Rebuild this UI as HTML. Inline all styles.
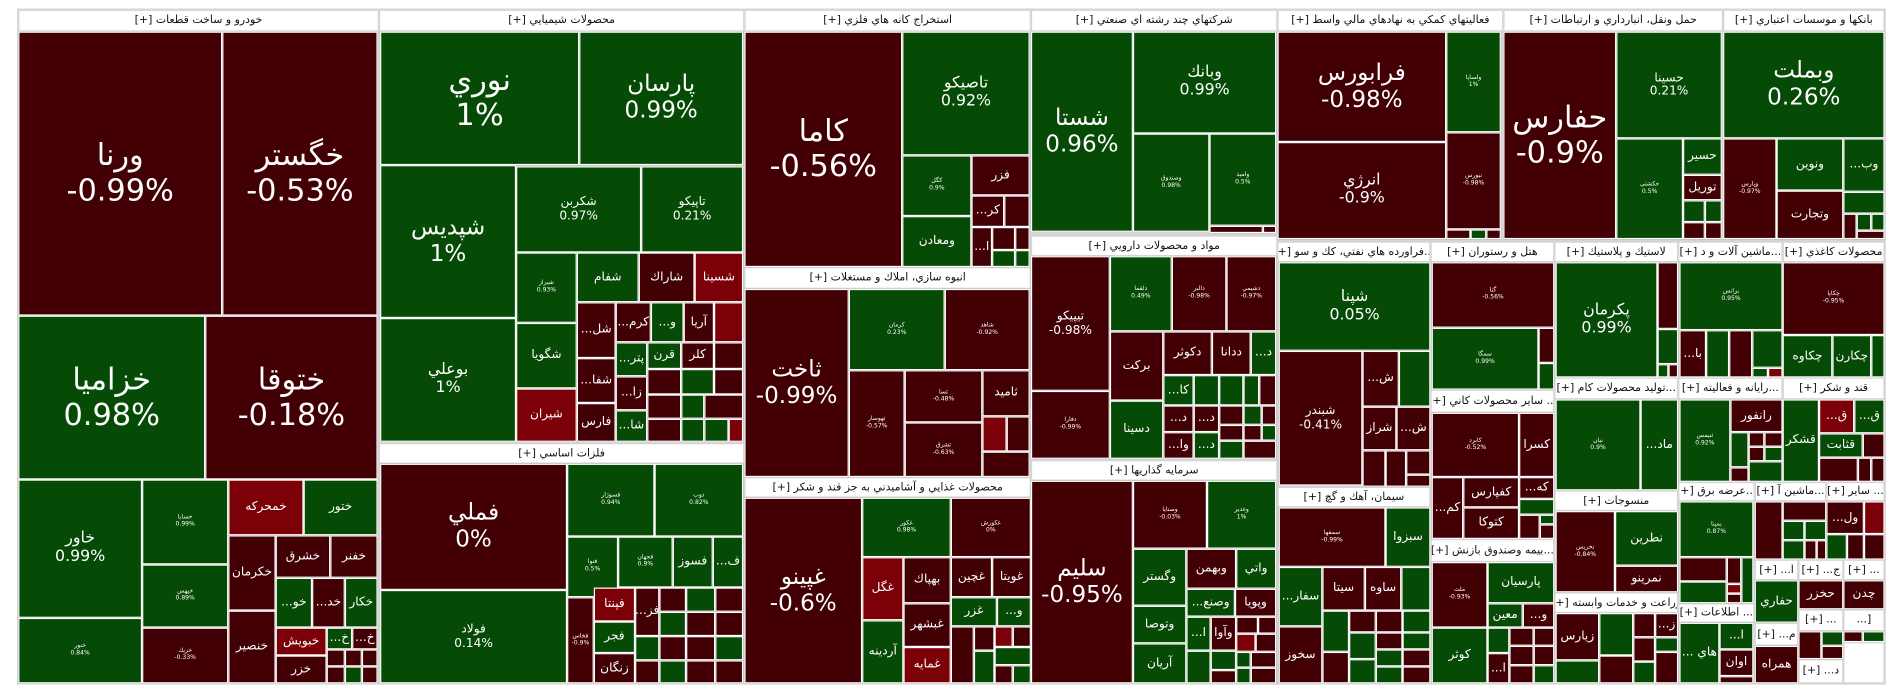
<!DOCTYPE html>
<html><head><meta charset="utf-8"><style>
html,body{margin:0;padding:0;background:#fff;width:1904px;height:698px;overflow:hidden}
#w{position:absolute;left:0;top:0;width:1568px;height:575px;transform:scale(1.2143,1.2139);transform-origin:0 0}
#bg{position:absolute;left:14px;top:7px;width:1539px;height:557px;background:#d4d4d4}
.c,.h{position:absolute;box-sizing:border-box;display:flex;align-items:center;justify-content:center;text-align:center;overflow:hidden;font-family:"DejaVu Sans","Liberation Sans",sans-serif;white-space:nowrap}
.h{direction:rtl}
.c{direction:ltr;border:1px solid #fff;color:#fff;line-height:1.15;font-size:9px}
.h{background:#fff;border:1px solid #d4d4d4;color:#111;font-size:9px}
.r{background:#420004}.g{background:#054a05}.b{background:#7b0007}
.x{font-size:25px}.l{font-size:19px}.m{font-size:13px}.s{font-size:10px}.t{font-size:5px}
</style></head><body><div id="w"><div id="bg"></div>
<!-- headers -->
<div class="h" style="left:15px;top:8px;width:297px;height:18px">خودرو و ساخت قطعات [+]</div>
<div class="h" style="left:312px;top:8px;width:301px;height:18px">محصولات شيميايي [+]</div>
<div class="h" style="left:312px;top:365px;width:301px;height:17px">فلزات اساسي [+]</div>
<div class="h" style="left:613px;top:8px;width:236px;height:18px">استخراج کانه هاي فلزي [+]</div>
<div class="h" style="left:613px;top:220px;width:236px;height:18px">انبوه سازي، املاك و مستغلات [+]</div>
<div class="h" style="left:613px;top:393px;width:236px;height:17px">محصولات غذايي و آشاميدني به جز قند و شکر [+]</div>
<div class="h" style="left:849px;top:8px;width:203px;height:18px">شرکتهاي چند رشته اي صنعتي [+]</div>
<div class="h" style="left:849px;top:194px;width:203px;height:17px">مواد و محصولات دارويي [+]</div>
<div class="h" style="left:849px;top:379px;width:203px;height:17px">سرمايه گذاريها [+]</div>
<div class="h" style="left:1052px;top:8px;width:186px;height:18px">فعاليتهاي کمکي به نهادهاي مالي واسط [+]</div>
<div class="h" style="left:1238px;top:8px;width:181px;height:18px">حمل ونقل، انبارداري و ارتباطات [+]</div>
<div class="h" style="left:1419px;top:8px;width:133px;height:18px">بانکها و موسسات اعتباري [+]</div>
<div class="h" style="left:1052px;top:199px;width:126px;height:17px">...فراورده هاي نفتي، کك و سو [+]</div>
<div class="h" style="left:1178px;top:199px;width:102px;height:17px">هتل و رستوران [+]</div>
<div class="h" style="left:1280px;top:199px;width:102px;height:17px">لاستيك و پلاستيك [+]</div>
<div class="h" style="left:1382px;top:199px;width:86px;height:17px">...ماشين آلات و د [+]</div>
<div class="h" style="left:1468px;top:199px;width:84px;height:17px">محصولات کاغذي [+]</div>
<div class="h" style="left:1052px;top:401px;width:126px;height:17px">سيمان، آهك و گچ [+]</div>
<div class="h" style="left:1178px;top:321px;width:102px;height:19px">... ساير محصولات کاني [+]</div>
<div class="h" style="left:1178px;top:444px;width:102px;height:19px">...بيمه وصندوق بازنش [+]</div>
<div class="h" style="left:1280px;top:311px;width:102px;height:18px">...توليد محصولات کام [+]</div>
<div class="h" style="left:1280px;top:404px;width:102px;height:17px">منسوجات [+]</div>
<div class="h" style="left:1280px;top:488px;width:102px;height:17px">زراعت و خدمات وابسته [+]</div>
<div class="h" style="left:1382px;top:311px;width:86px;height:18px">...رايانه و فعاليته [+]</div>
<div class="h" style="left:1468px;top:311px;width:84px;height:18px">قند و شکر [+]</div>
<div class="h" style="left:1382px;top:397px;width:63px;height:16px">...عرضه برق [+]</div>
<div class="h" style="left:1445px;top:397px;width:59px;height:16px">...ماشين آ [+]</div>
<div class="h" style="left:1504px;top:397px;width:48px;height:16px">... ساير [+]</div>
<div class="h" style="left:1382px;top:497px;width:63px;height:16px">... اطلاعات [+]</div>
<div class="h" style="left:1445px;top:461px;width:36px;height:17px">ا... [+]</div>
<div class="h" style="left:1481px;top:461px;width:37px;height:17px">ج... [+]</div>
<div class="h" style="left:1518px;top:461px;width:34px;height:17px">... [+]</div>
<div class="h" style="left:1445px;top:513px;width:36px;height:19px">م... [+]</div>
<div class="h" style="left:1481px;top:502px;width:37px;height:18px">... [+]</div>
<div class="h" style="left:1518px;top:502px;width:34px;height:18px">[...</div>
<div class="h" style="left:1481px;top:543px;width:37px;height:20px">د... [+]</div>

<!-- A -->
<div class="c r x" style="left:15px;top:26px;width:168px;height:234px">ورنا<br>-0.99%</div>
<div class="c r x" style="left:183px;top:26px;width:128px;height:234px">خگستر<br>-0.53%</div>
<div class="c g x" style="left:15px;top:260px;width:154px;height:135px">خزاميا<br>0.98%</div>
<div class="c r x" style="left:169px;top:260px;width:142px;height:135px">ختوقا<br>-0.18%</div>
<div class="c g m" style="left:15px;top:395px;width:102px;height:114px">خاور<br>0.99%</div>
<div class="c g t" style="left:15px;top:509px;width:102px;height:54px">خنور<br>0.84%</div>
<div class="c g t" style="left:117px;top:395px;width:71px;height:70px">خسابا<br>0.99%</div>
<div class="c g t" style="left:117px;top:465px;width:71px;height:52px">خپهس<br>0.89%</div>
<div class="c r t" style="left:117px;top:517px;width:71px;height:46px">خريك<br>-0.33%</div>
<div class="c b s" style="left:188px;top:395px;width:62px;height:46px">خمحركه</div>
<div class="c g s" style="left:250px;top:395px;width:61px;height:46px">ختور</div>
<div class="c r s" style="left:188px;top:441px;width:39px;height:62px">خكرمان</div>
<div class="c r s" style="left:188px;top:503px;width:39px;height:60px">خنصير</div>
<div class="c r s" style="left:227px;top:441px;width:45px;height:35px">خشرق</div>
<div class="c r s" style="left:272px;top:441px;width:39px;height:35px">خفنر</div>
<div class="c g s" style="left:227px;top:476px;width:30px;height:41px">...خو</div>
<div class="c r s" style="left:257px;top:476px;width:27px;height:41px">...خد</div>
<div class="c g s" style="left:284px;top:476px;width:27px;height:41px">خكار</div>
<div class="c b s" style="left:227px;top:517px;width:42px;height:23px">خبويش</div>
<div class="c r s" style="left:227px;top:540px;width:42px;height:23px">خزر</div>
<div class="c g s" style="left:269px;top:517px;width:21px;height:18px">...خ</div>
<div class="c r s" style="left:290px;top:517px;width:21px;height:18px">...خ</div>
<div class="c r" style="left:269px;top:535px;width:15px;height:14px"></div>
<div class="c r" style="left:284px;top:535px;width:14px;height:14px"></div>
<div class="c r" style="left:298px;top:535px;width:13px;height:14px"></div>
<div class="c r" style="left:269px;top:549px;width:15px;height:14px"></div>
<div class="c g" style="left:284px;top:549px;width:14px;height:14px"></div>
<div class="c r" style="left:298px;top:549px;width:13px;height:14px"></div>

<!-- B chem -->
<div class="c g x" style="left:313px;top:26px;width:164px;height:110px">نوري<br>1%</div>
<div class="c g l" style="left:477px;top:26px;width:135px;height:110px">پارسان<br>0.99%</div>
<div class="c g l" style="left:313px;top:136px;width:112px;height:126px">شپديس<br>1%</div>
<div class="c g m" style="left:313px;top:262px;width:112px;height:102px">بوعلي<br>1%</div>
<div class="c g s" style="left:425px;top:137px;width:103px;height:71px">شکربن<br>0.97%</div>
<div class="c g s" style="left:528px;top:137px;width:84px;height:71px">تاپيکو<br>0.21%</div>
<div class="c g t" style="left:425px;top:208px;width:50px;height:58px">شيراز<br>0.93%</div>
<div class="c g s" style="left:425px;top:266px;width:50px;height:54px">شگويا</div>
<div class="c b s" style="left:425px;top:320px;width:50px;height:44px">شيران</div>
<div class="c g s" style="left:475px;top:208px;width:51px;height:41px">شفام</div>
<div class="c r s" style="left:526px;top:208px;width:46px;height:41px">شاراك</div>
<div class="c b s" style="left:572px;top:208px;width:40px;height:41px">شسينا</div>
<div class="c r s" style="left:475px;top:249px;width:32px;height:46px">...شل</div>
<div class="c r s" style="left:475px;top:295px;width:32px;height:37px">...شفا</div>
<div class="c r s" style="left:475px;top:332px;width:32px;height:32px">فارس</div>
<div class="c r s" style="left:507px;top:249px;width:29px;height:33px">...كرم</div>
<div class="c g s" style="left:536px;top:249px;width:27px;height:33px">...و</div>
<div class="c r s" style="left:563px;top:249px;width:25px;height:33px">آريا</div>
<div class="c b" style="left:588px;top:249px;width:24px;height:33px"></div>
<div class="c g s" style="left:507px;top:282px;width:26px;height:28px">...پتر</div>
<div class="c g s" style="left:533px;top:282px;width:28px;height:22px">قرن</div>
<div class="c r s" style="left:561px;top:282px;width:27px;height:22px">كلر</div>
<div class="c r" style="left:588px;top:282px;width:24px;height:22px"></div>
<div class="c r s" style="left:507px;top:310px;width:26px;height:28px">...زا</div>
<div class="c g s" style="left:507px;top:338px;width:26px;height:26px">...شا</div>
<div class="c r" style="left:533px;top:304px;width:28px;height:21px"></div>
<div class="c g" style="left:561px;top:304px;width:27px;height:21px"></div>
<div class="c r" style="left:588px;top:304px;width:24px;height:21px"></div>
<div class="c r" style="left:533px;top:325px;width:28px;height:20px"></div>
<div class="c g" style="left:561px;top:325px;width:19px;height:20px"></div>
<div class="c r" style="left:580px;top:325px;width:32px;height:20px"></div>
<div class="c r" style="left:533px;top:345px;width:28px;height:19px"></div>
<div class="c g" style="left:561px;top:345px;width:19px;height:19px"></div>
<div class="c g" style="left:580px;top:345px;width:20px;height:19px"></div>
<div class="c b" style="left:600px;top:345px;width:12px;height:19px"></div>
<!-- B metals -->
<div class="c r l" style="left:313px;top:382px;width:154px;height:104px">فملي<br>0%</div>
<div class="c g s" style="left:313px;top:486px;width:154px;height:77px">فولاد<br>0.14%</div>
<div class="c g t" style="left:467px;top:382px;width:72px;height:60px">فسوژار<br>0.94%</div>
<div class="c g t" style="left:539px;top:382px;width:73px;height:60px">ذوب<br>0.82%</div>
<div class="c g t" style="left:467px;top:442px;width:42px;height:50px">فنوا<br>0.5%</div>
<div class="c g t" style="left:509px;top:442px;width:45px;height:42px">فجهان<br>0.9%</div>
<div class="c g s" style="left:554px;top:442px;width:33px;height:42px">فسوز</div>
<div class="c g s" style="left:587px;top:442px;width:25px;height:42px">...ف</div>
<div class="c r t" style="left:467px;top:492px;width:22px;height:71px">فخاس<br>-0.9%</div>
<div class="c b s" style="left:489px;top:484px;width:34px;height:28px">فپنتا</div>
<div class="c g s" style="left:489px;top:512px;width:34px;height:26px">فجر</div>
<div class="c r s" style="left:489px;top:538px;width:34px;height:25px">زنگان</div>
<div class="c r s" style="left:523px;top:484px;width:20px;height:40px">...فز</div>
<div class="c r" style="left:543px;top:484px;width:22px;height:20px"></div>
<div class="c g" style="left:565px;top:484px;width:24px;height:20px"></div>
<div class="c r" style="left:589px;top:484px;width:23px;height:20px"></div>
<div class="c g" style="left:543px;top:504px;width:22px;height:20px"></div>
<div class="c r" style="left:565px;top:504px;width:24px;height:20px"></div>
<div class="c r" style="left:589px;top:504px;width:23px;height:20px"></div>
<div class="c g" style="left:523px;top:524px;width:20px;height:20px"></div>
<div class="c r" style="left:543px;top:524px;width:22px;height:20px"></div>
<div class="c r" style="left:565px;top:524px;width:24px;height:20px"></div>
<div class="c g" style="left:589px;top:524px;width:23px;height:20px"></div>
<div class="c r" style="left:523px;top:544px;width:20px;height:19px"></div>
<div class="c g" style="left:543px;top:544px;width:22px;height:19px"></div>
<div class="c r" style="left:565px;top:544px;width:24px;height:19px"></div>
<div class="c r" style="left:589px;top:544px;width:23px;height:19px"></div>

<!-- C -->
<div class="c r x" style="left:613px;top:26px;width:130px;height:194px">كاما<br>-0.56%</div>
<div class="c g m" style="left:743px;top:26px;width:105px;height:102px">تاصيكو<br>0.92%</div>
<div class="c g t" style="left:743px;top:128px;width:57px;height:50px">کگل<br>0.9%</div>
<div class="c g s" style="left:743px;top:178px;width:57px;height:42px">ومعادن</div>
<div class="c r s" style="left:800px;top:128px;width:48px;height:33px">فزر</div>
<div class="c r s" style="left:800px;top:161px;width:27px;height:26px">...کر</div>
<div class="c r" style="left:827px;top:161px;width:21px;height:26px"></div>
<div class="c r s" style="left:800px;top:187px;width:17px;height:33px">...ا</div>
<div class="c r" style="left:817px;top:187px;width:19px;height:19px"></div>
<div class="c r" style="left:836px;top:187px;width:12px;height:19px"></div>
<div class="c g" style="left:817px;top:206px;width:19px;height:14px"></div>
<div class="c g" style="left:836px;top:206px;width:12px;height:14px"></div>
<div class="c r l" style="left:613px;top:238px;width:86px;height:155px">ثاخت<br>-0.99%</div>
<div class="c g t" style="left:699px;top:238px;width:79px;height:67px">كرمان<br>0.23%</div>
<div class="c r t" style="left:778px;top:238px;width:70px;height:67px">شاهد<br>-0.92%</div>
<div class="c r t" style="left:699px;top:305px;width:46px;height:88px">ثهوسار<br>-0.57%</div>
<div class="c r t" style="left:745px;top:305px;width:64px;height:43px">ثسا<br>-0.48%</div>
<div class="c r s" style="left:809px;top:305px;width:39px;height:38px">ثاميد</div>
<div class="c r t" style="left:745px;top:348px;width:64px;height:45px">ثشرق<br>-0.63%</div>
<div class="c b" style="left:809px;top:343px;width:20px;height:29px"></div>
<div class="c r" style="left:829px;top:343px;width:19px;height:29px"></div>
<div class="c r" style="left:809px;top:372px;width:39px;height:21px"></div>
<div class="c r l" style="left:613px;top:410px;width:97px;height:153px">غپينو<br>-0.6%</div>
<div class="c g t" style="left:710px;top:410px;width:73px;height:49px">غكور<br>0.98%</div>
<div class="c r t" style="left:783px;top:410px;width:66px;height:49px">غكورش<br>0%</div>
<div class="c b s" style="left:710px;top:459px;width:34px;height:52px">غگل</div>
<div class="c g s" style="left:710px;top:511px;width:34px;height:52px">آردينه</div>
<div class="c r s" style="left:744px;top:459px;width:39px;height:38px">بهپاك</div>
<div class="c r s" style="left:744px;top:497px;width:39px;height:36px">غبشهر</div>
<div class="c b s" style="left:744px;top:533px;width:39px;height:30px">غمايه</div>
<div class="c r s" style="left:783px;top:459px;width:34px;height:33px">غچين</div>
<div class="c r s" style="left:817px;top:459px;width:32px;height:33px">غويتا</div>
<div class="c g s" style="left:783px;top:492px;width:38px;height:24px">غزر</div>
<div class="c g s" style="left:821px;top:492px;width:28px;height:24px">...و</div>
<div class="c r" style="left:783px;top:516px;width:19px;height:47px"></div>
<div class="c r" style="left:802px;top:516px;width:17px;height:20px"></div>
<div class="c g" style="left:802px;top:536px;width:17px;height:27px"></div>
<div class="c b" style="left:819px;top:516px;width:15px;height:17px"></div>
<div class="c r" style="left:834px;top:516px;width:15px;height:17px"></div>
<div class="c g" style="left:819px;top:533px;width:30px;height:15px"></div>
<div class="c r" style="left:819px;top:548px;width:15px;height:15px"></div>
<div class="c g" style="left:834px;top:548px;width:15px;height:15px"></div>

<!-- D -->
<div class="c g l" style="left:849px;top:26px;width:84px;height:165px">شستا<br>0.96%</div>
<div class="c g m" style="left:933px;top:26px;width:118px;height:84px">وبانك<br>0.99%</div>
<div class="c g t" style="left:933px;top:110px;width:63px;height:81px">وصندوق<br>0.98%</div>
<div class="c g t" style="left:996px;top:110px;width:55px;height:76px">واميد<br>0.5%</div>
<div class="c r" style="left:996px;top:186px;width:44px;height:6px"></div>
<div class="c r" style="left:1040px;top:186px;width:11px;height:6px"></div>
<div class="c r s" style="left:849px;top:211px;width:65px;height:111px">تيپيكو<br>-0.98%</div>
<div class="c r t" style="left:849px;top:322px;width:65px;height:56px">دفارا<br>-0.99%</div>
<div class="c g t" style="left:914px;top:211px;width:51px;height:62px">دلقما<br>0.49%</div>
<div class="c r t" style="left:965px;top:211px;width:45px;height:62px">دالبر<br>-0.98%</div>
<div class="c r t" style="left:1010px;top:211px;width:41px;height:62px">دشيمي<br>-0.97%</div>
<div class="c r s" style="left:914px;top:273px;width:44px;height:57px">بركت</div>
<div class="c g s" style="left:914px;top:330px;width:44px;height:48px">دسينا</div>
<div class="c r s" style="left:958px;top:273px;width:40px;height:36px">دكوثر</div>
<div class="c r s" style="left:998px;top:273px;width:32px;height:36px">ددانا</div>
<div class="c g s" style="left:1030px;top:273px;width:21px;height:36px">...د</div>
<div class="c g s" style="left:958px;top:309px;width:25px;height:25px">...كا</div>
<div class="c g" style="left:983px;top:309px;width:21px;height:25px"></div>
<div class="c g" style="left:1004px;top:309px;width:20px;height:25px"></div>
<div class="c g" style="left:1024px;top:309px;width:13px;height:25px"></div>
<div class="c r" style="left:1037px;top:309px;width:14px;height:25px"></div>
<div class="c r s" style="left:958px;top:334px;width:25px;height:22px">...د</div>
<div class="c r s" style="left:983px;top:334px;width:21px;height:22px">...د</div>
<div class="c r s" style="left:958px;top:356px;width:25px;height:22px">...وا</div>
<div class="c g s" style="left:983px;top:356px;width:21px;height:22px">...د</div>
<div class="c r" style="left:1004px;top:334px;width:20px;height:16px"></div>
<div class="c g" style="left:1024px;top:334px;width:15px;height:16px"></div>
<div class="c r" style="left:1039px;top:334px;width:12px;height:16px"></div>
<div class="c r" style="left:1004px;top:350px;width:20px;height:13px"></div>
<div class="c r" style="left:1024px;top:350px;width:15px;height:13px"></div>
<div class="c g" style="left:1039px;top:350px;width:12px;height:13px"></div>
<div class="c g" style="left:1004px;top:363px;width:20px;height:15px"></div>
<div class="c r" style="left:1024px;top:363px;width:27px;height:15px"></div>
<div class="c r l" style="left:849px;top:396px;width:84px;height:167px">سليم<br>-0.95%</div>
<div class="c r t" style="left:933px;top:396px;width:61px;height:56px">وصنايا<br>-0.03%</div>
<div class="c g t" style="left:994px;top:396px;width:57px;height:56px">وغدير<br>1%</div>
<div class="c g s" style="left:933px;top:452px;width:44px;height:47px">وگستر</div>
<div class="c r s" style="left:977px;top:452px;width:41px;height:33px">وبهمن</div>
<div class="c g s" style="left:1018px;top:452px;width:33px;height:33px">واتي</div>
<div class="c g s" style="left:977px;top:485px;width:40px;height:23px">...وصنع</div>
<div class="c r s" style="left:1017px;top:485px;width:34px;height:23px">وپويا</div>
<div class="c g s" style="left:933px;top:499px;width:44px;height:31px">وتوصا</div>
<div class="c g s" style="left:933px;top:530px;width:44px;height:33px">آريان</div>
<div class="c g s" style="left:977px;top:508px;width:20px;height:28px">...ا</div>
<div class="c r s" style="left:997px;top:508px;width:21px;height:28px">وآوا</div>
<div class="c g" style="left:977px;top:536px;width:20px;height:27px"></div>
<div class="c g" style="left:997px;top:536px;width:21px;height:16px"></div>
<div class="c r" style="left:997px;top:552px;width:21px;height:11px"></div>
<div class="c r" style="left:1018px;top:508px;width:18px;height:14px"></div>
<div class="c r" style="left:1036px;top:508px;width:15px;height:14px"></div>
<div class="c b" style="left:1018px;top:522px;width:16px;height:15px"></div>
<div class="c r" style="left:1034px;top:522px;width:17px;height:15px"></div>
<div class="c g" style="left:1018px;top:537px;width:12px;height:13px"></div>
<div class="c r" style="left:1030px;top:537px;width:21px;height:13px"></div>
<div class="c g" style="left:1018px;top:550px;width:12px;height:13px"></div>
<div class="c r" style="left:1030px;top:550px;width:21px;height:13px"></div>

<!-- E -->
<div class="c r l" style="left:1052px;top:26px;width:139px;height:91px">فرابورس<br>-0.98%</div>
<div class="c r m" style="left:1052px;top:117px;width:139px;height:80px">انرژي<br>-0.9%</div>
<div class="c g t" style="left:1191px;top:26px;width:45px;height:83px">ولساپا<br>1%</div>
<div class="c r t" style="left:1191px;top:109px;width:45px;height:80px">نبورس<br>-0.98%</div>
<div class="c r" style="left:1191px;top:189px;width:20px;height:8px"></div>
<div class="c g" style="left:1211px;top:189px;width:13px;height:8px"></div>
<div class="c r" style="left:1224px;top:189px;width:12px;height:8px"></div>
<!-- F -->
<div class="c r x" style="left:1238px;top:26px;width:93px;height:171px">حفارس<br>-0.9%</div>
<div class="c g s" style="left:1331px;top:26px;width:87px;height:88px">حسينا<br>0.21%</div>
<div class="c g t" style="left:1331px;top:114px;width:55px;height:83px">حكشتي<br>0.5%</div>
<div class="c g s" style="left:1386px;top:114px;width:32px;height:30px">حسير</div>
<div class="c r s" style="left:1386px;top:144px;width:32px;height:21px">توريل</div>
<div class="c g" style="left:1386px;top:165px;width:18px;height:18px"></div>
<div class="c g" style="left:1404px;top:165px;width:14px;height:18px"></div>
<div class="c r" style="left:1386px;top:183px;width:18px;height:14px"></div>
<div class="c r" style="left:1404px;top:183px;width:14px;height:14px"></div>
<!-- G -->
<div class="c g l" style="left:1419px;top:26px;width:133px;height:88px">وبملت<br>0.26%</div>
<div class="c r t" style="left:1419px;top:114px;width:44px;height:83px">وپارس<br>-0.97%</div>
<div class="c g s" style="left:1463px;top:114px;width:55px;height:43px">ونوين</div>
<div class="c g s" style="left:1518px;top:114px;width:34px;height:44px">...وب</div>
<div class="c r s" style="left:1463px;top:157px;width:55px;height:40px">وتجارت</div>
<div class="c g" style="left:1518px;top:158px;width:34px;height:18px"></div>
<div class="c r" style="left:1518px;top:176px;width:11px;height:21px"></div>
<div class="c g" style="left:1529px;top:176px;width:12px;height:14px"></div>
<div class="c g" style="left:1541px;top:176px;width:11px;height:14px"></div>
<div class="c r" style="left:1529px;top:190px;width:23px;height:7px"></div>

<!-- petroleum -->
<div class="c g m" style="left:1053px;top:216px;width:125px;height:73px">شپنا<br>0.05%</div>
<div class="c r s" style="left:1053px;top:289px;width:69px;height:111px">شبندر<br>-0.41%</div>
<div class="c r s" style="left:1122px;top:289px;width:30px;height:46px">...ش</div>
<div class="c g" style="left:1152px;top:289px;width:26px;height:46px"></div>
<div class="c r s" style="left:1122px;top:335px;width:28px;height:36px">شراز</div>
<div class="c r s" style="left:1150px;top:335px;width:28px;height:36px">...ش</div>
<div class="c r" style="left:1122px;top:371px;width:19px;height:30px"></div>
<div class="c r" style="left:1141px;top:371px;width:17px;height:30px"></div>
<div class="c r" style="left:1158px;top:371px;width:20px;height:20px"></div>
<div class="c r" style="left:1158px;top:391px;width:20px;height:10px"></div>
<!-- cement -->
<div class="c r t" style="left:1053px;top:418px;width:88px;height:49px">سمفها<br>-0.99%</div>
<div class="c g s" style="left:1141px;top:418px;width:37px;height:49px">سبزوا</div>
<div class="c g s" style="left:1053px;top:467px;width:36px;height:49px">...سفار</div>
<div class="c r s" style="left:1089px;top:467px;width:35px;height:36px">سيتا</div>
<div class="c r s" style="left:1124px;top:467px;width:30px;height:36px">ساوه</div>
<div class="c g" style="left:1154px;top:467px;width:24px;height:36px"></div>
<div class="c r s" style="left:1053px;top:516px;width:36px;height:47px">سخوز</div>
<div class="c g" style="left:1089px;top:503px;width:22px;height:34px"></div>
<div class="c r" style="left:1111px;top:503px;width:22px;height:18px"></div>
<div class="c r" style="left:1133px;top:503px;width:22px;height:18px"></div>
<div class="c g" style="left:1155px;top:503px;width:23px;height:18px"></div>
<div class="c g" style="left:1111px;top:521px;width:22px;height:22px"></div>
<div class="c r" style="left:1133px;top:521px;width:22px;height:14px"></div>
<div class="c g" style="left:1155px;top:521px;width:23px;height:14px"></div>
<div class="c r" style="left:1089px;top:537px;width:22px;height:26px"></div>
<div class="c g" style="left:1111px;top:543px;width:22px;height:20px"></div>
<div class="c g" style="left:1133px;top:535px;width:22px;height:14px"></div>
<div class="c r" style="left:1155px;top:535px;width:23px;height:14px"></div>
<div class="c g" style="left:1133px;top:549px;width:22px;height:14px"></div>
<div class="c r" style="left:1155px;top:549px;width:23px;height:14px"></div>
<!-- hotel -->
<div class="c r t" style="left:1179px;top:216px;width:101px;height:54px">گنا<br>-0.56%</div>
<div class="c g t" style="left:1179px;top:270px;width:88px;height:51px">سمگا<br>0.99%</div>
<div class="c r" style="left:1267px;top:270px;width:13px;height:29px"></div>
<div class="c g" style="left:1267px;top:299px;width:13px;height:22px"></div>
<!-- other mineral -->
<div class="c r t" style="left:1179px;top:340px;width:72px;height:53px">كابرد<br>-0.52%</div>
<div class="c r s" style="left:1251px;top:340px;width:29px;height:53px">كسرا</div>
<div class="c r s" style="left:1179px;top:393px;width:26px;height:51px">...كم</div>
<div class="c r s" style="left:1205px;top:393px;width:46px;height:25px">كفپارس</div>
<div class="c r s" style="left:1205px;top:418px;width:46px;height:26px">كتوكا</div>
<div class="c r s" style="left:1251px;top:393px;width:29px;height:18px">...كه</div>
<div class="c g" style="left:1251px;top:411px;width:29px;height:13px"></div>
<div class="c r" style="left:1251px;top:424px;width:17px;height:20px"></div>
<div class="c g" style="left:1268px;top:424px;width:12px;height:8px"></div>
<div class="c r" style="left:1268px;top:432px;width:12px;height:12px"></div>
<!-- insurance -->
<div class="c r t" style="left:1179px;top:463px;width:46px;height:54px">ملت<br>-0.93%</div>
<div class="c g s" style="left:1179px;top:517px;width:46px;height:46px">كوثر</div>
<div class="c g s" style="left:1225px;top:463px;width:55px;height:34px">پارسيان</div>
<div class="c g s" style="left:1225px;top:497px;width:29px;height:20px">معين</div>
<div class="c r s" style="left:1254px;top:497px;width:26px;height:20px">...و</div>
<div class="c g" style="left:1225px;top:517px;width:18px;height:21px"></div>
<div class="c r" style="left:1243px;top:517px;width:20px;height:15px"></div>
<div class="c r" style="left:1263px;top:517px;width:17px;height:15px"></div>
<div class="c r s" style="left:1225px;top:538px;width:18px;height:25px">...ا</div>
<div class="c r" style="left:1243px;top:532px;width:20px;height:16px"></div>
<div class="c r" style="left:1263px;top:532px;width:17px;height:16px"></div>
<div class="c r" style="left:1243px;top:548px;width:20px;height:15px"></div>
<div class="c g" style="left:1263px;top:548px;width:17px;height:15px"></div>
<!-- plastic -->
<div class="c g m" style="left:1281px;top:216px;width:84px;height:95px">پكرمان<br>0.99%</div>
<div class="c r" style="left:1365px;top:216px;width:17px;height:55px"></div>
<div class="c g" style="left:1365px;top:271px;width:17px;height:29px"></div>
<div class="c g" style="left:1365px;top:300px;width:9px;height:11px"></div>
<div class="c r" style="left:1374px;top:300px;width:8px;height:11px"></div>
<!-- kam -->
<div class="c g t" style="left:1281px;top:329px;width:70px;height:75px">نيان<br>0.9%</div>
<div class="c g s" style="left:1351px;top:329px;width:31px;height:75px">...ماد</div>
<!-- textiles -->
<div class="c r t" style="left:1281px;top:421px;width:49px;height:67px">نخريس<br>-0.84%</div>
<div class="c g s" style="left:1330px;top:421px;width:52px;height:45px">نطرين</div>
<div class="c r s" style="left:1330px;top:466px;width:52px;height:22px">نمرينو</div>
<!-- agri -->
<div class="c r s" style="left:1281px;top:505px;width:36px;height:39px">زيارس</div>
<div class="c g" style="left:1281px;top:544px;width:36px;height:19px"></div>
<div class="c g" style="left:1317px;top:505px;width:28px;height:35px"></div>
<div class="c r" style="left:1317px;top:540px;width:28px;height:23px"></div>
<div class="c r" style="left:1345px;top:505px;width:18px;height:20px"></div>
<div class="c r s" style="left:1363px;top:505px;width:19px;height:20px">...ز</div>
<div class="c r" style="left:1345px;top:525px;width:18px;height:20px"></div>
<div class="c g" style="left:1363px;top:525px;width:19px;height:12px"></div>
<div class="c g" style="left:1345px;top:545px;width:18px;height:18px"></div>
<div class="c r" style="left:1363px;top:537px;width:19px;height:26px"></div>
<!-- machines -->
<div class="c g t" style="left:1383px;top:216px;width:85px;height:56px">برانس<br>0.95%</div>
<div class="c r s" style="left:1383px;top:272px;width:22px;height:39px">...با</div>
<div class="c g" style="left:1405px;top:272px;width:19px;height:39px"></div>
<div class="c r" style="left:1424px;top:272px;width:19px;height:39px"></div>
<div class="c g" style="left:1443px;top:272px;width:25px;height:31px"></div>
<div class="c g" style="left:1443px;top:303px;width:13px;height:8px"></div>
<div class="c b" style="left:1456px;top:303px;width:12px;height:8px"></div>
<!-- rayane -->
<div class="c g t" style="left:1383px;top:329px;width:42px;height:68px">ثنيمس<br>0.92%</div>
<div class="c r s" style="left:1425px;top:329px;width:43px;height:27px">رانفور</div>
<div class="c g" style="left:1425px;top:356px;width:15px;height:29px"></div>
<div class="c r" style="left:1440px;top:356px;width:13px;height:12px"></div>
<div class="c r" style="left:1453px;top:356px;width:15px;height:12px"></div>
<div class="c r" style="left:1440px;top:368px;width:13px;height:12px"></div>
<div class="c g" style="left:1453px;top:368px;width:15px;height:12px"></div>
<div class="c r" style="left:1425px;top:385px;width:15px;height:12px"></div>
<div class="c g" style="left:1440px;top:380px;width:28px;height:17px"></div>
<!-- paper -->
<div class="c r t" style="left:1468px;top:216px;width:84px;height:60px">چكاپا<br>-0.95%</div>
<div class="c g s" style="left:1468px;top:276px;width:41px;height:35px">چكاوه</div>
<div class="c g s" style="left:1509px;top:276px;width:32px;height:35px">چكارن</div>
<div class="c g" style="left:1541px;top:276px;width:11px;height:35px"></div>
<!-- sugar -->
<div class="c g s" style="left:1468px;top:329px;width:30px;height:68px">قشكر</div>
<div class="c b s" style="left:1498px;top:329px;width:29px;height:28px">...ق</div>
<div class="c g s" style="left:1527px;top:329px;width:25px;height:28px">...ق</div>
<div class="c g s" style="left:1498px;top:357px;width:36px;height:20px">قثابت</div>
<div class="c r" style="left:1534px;top:357px;width:18px;height:20px"></div>
<div class="c r" style="left:1498px;top:377px;width:32px;height:20px"></div>
<div class="c r" style="left:1530px;top:377px;width:11px;height:20px"></div>
<div class="c r" style="left:1541px;top:377px;width:11px;height:20px"></div>
<!-- electricity -->
<div class="c g t" style="left:1383px;top:413px;width:61px;height:46px">بمپنا<br>0.87%</div>
<div class="c r" style="left:1383px;top:459px;width:39px;height:20px"></div>
<div class="c g" style="left:1383px;top:479px;width:39px;height:18px"></div>
<div class="c r" style="left:1422px;top:459px;width:12px;height:22px"></div>
<div class="c b" style="left:1422px;top:481px;width:12px;height:8px"></div>
<div class="c r" style="left:1422px;top:489px;width:12px;height:8px"></div>
<div class="c g" style="left:1434px;top:459px;width:10px;height:38px"></div>
<!-- info -->
<div class="c g s" style="left:1383px;top:513px;width:33px;height:50px">... هاي</div>
<div class="c g s" style="left:1416px;top:513px;width:28px;height:22px">...ا</div>
<div class="c r s" style="left:1416px;top:535px;width:28px;height:22px">اوان</div>
<div class="c r" style="left:1416px;top:557px;width:28px;height:6px"></div>
<!-- machine a -->
<div class="c r" style="left:1445px;top:413px;width:23px;height:48px"></div>
<div class="c r" style="left:1468px;top:413px;width:36px;height:16px"></div>
<div class="c g" style="left:1468px;top:429px;width:18px;height:16px"></div>
<div class="c g" style="left:1486px;top:429px;width:18px;height:16px"></div>
<div class="c g" style="left:1468px;top:445px;width:18px;height:16px"></div>
<div class="c r" style="left:1486px;top:445px;width:10px;height:16px"></div>
<div class="c r" style="left:1496px;top:445px;width:8px;height:16px"></div>
<!-- other -->
<div class="c r s" style="left:1504px;top:413px;width:31px;height:27px">...ول</div>
<div class="c b" style="left:1535px;top:413px;width:17px;height:27px"></div>
<div class="c g" style="left:1504px;top:440px;width:17px;height:21px"></div>
<div class="c r" style="left:1521px;top:440px;width:14px;height:21px"></div>
<div class="c r" style="left:1535px;top:440px;width:17px;height:21px"></div>
<!-- tiny sectors -->
<div class="c g s" style="left:1445px;top:478px;width:36px;height:35px">حفاري</div>
<div class="c r s" style="left:1481px;top:478px;width:37px;height:24px">حخزر</div>
<div class="c r s" style="left:1518px;top:478px;width:34px;height:24px">چدن</div>
<div class="c r s" style="left:1445px;top:532px;width:36px;height:31px">همراه</div>
<div class="c r" style="left:1481px;top:520px;width:19px;height:23px"></div>
<div class="c g" style="left:1500px;top:520px;width:18px;height:12px"></div>
<div class="c r" style="left:1500px;top:532px;width:18px;height:11px"></div>
<div class="c r" style="left:1518px;top:520px;width:16px;height:9px"></div>
<div class="c g" style="left:1534px;top:520px;width:18px;height:9px"></div>
<div class="h" style="left:1518px;top:529px;width:34px;height:34px"></div>
</div></body></html>
